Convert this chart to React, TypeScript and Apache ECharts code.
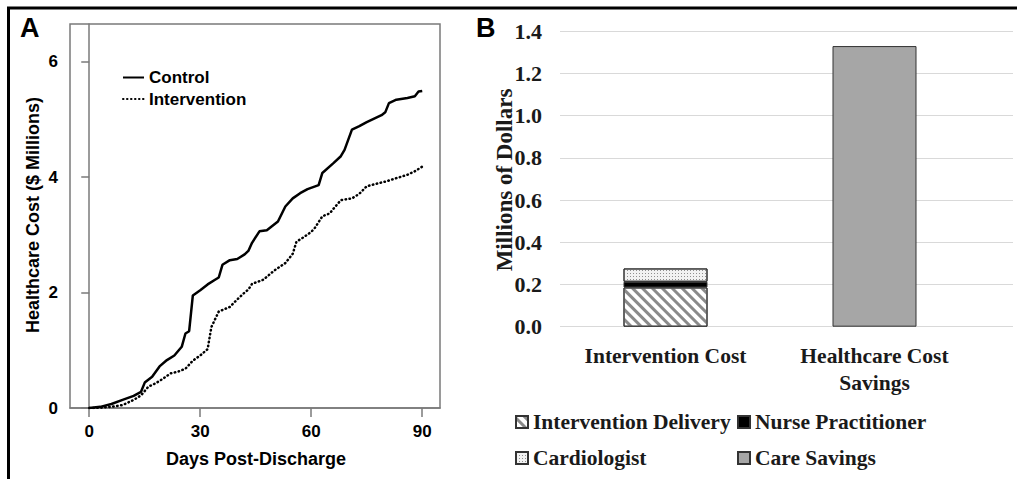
import React, { useEffect, useRef } from "react";
import * as echarts from "echarts";

// Panel A: cumulative healthcare cost ($ millions) by days post-discharge
const controlDays = [0, 3, 6, 9, 12, 14, 15, 17, 19, 21, 23, 25, 26, 27, 28, 30, 32, 34, 35, 36, 38, 40, 42, 43, 44, 46, 48, 51, 53, 55, 57, 59, 62, 63, 66, 68, 69, 71, 73, 75, 77, 79, 80, 81, 83, 86, 88, 89, 90];
const controlCost = [0, 0.02, 0.07, 0.14, 0.21, 0.28, 0.44, 0.54, 0.72, 0.83, 0.91, 1.06, 1.29, 1.33, 1.95, 2.04, 2.14, 2.22, 2.26, 2.48, 2.56, 2.58, 2.66, 2.72, 2.86, 3.06, 3.08, 3.23, 3.49, 3.63, 3.72, 3.79, 3.86, 4.07, 4.24, 4.36, 4.47, 4.82, 4.88, 4.95, 5.01, 5.07, 5.12, 5.28, 5.34, 5.37, 5.4, 5.48, 5.49];
const interventionDays = [0, 3, 6, 9, 12, 14, 16, 18, 20, 22, 24, 26, 28, 30, 32, 33, 35, 38, 40, 42, 43, 44, 47, 50, 53, 55, 56, 58, 60, 61, 63, 65, 66, 68, 71, 73, 75, 78, 80, 83, 86, 88, 90];
const interventionCost = [0, 0.005, 0.02, 0.05, 0.14, 0.22, 0.37, 0.43, 0.51, 0.6, 0.63, 0.68, 0.82, 0.91, 1.02, 1.4, 1.67, 1.75, 1.88, 2.0, 2.05, 2.15, 2.22, 2.38, 2.51, 2.67, 2.88, 2.96, 3.05, 3.12, 3.32, 3.37, 3.45, 3.6, 3.63, 3.71, 3.84, 3.89, 3.92, 3.98, 4.04, 4.1, 4.18];
const dayTicks = [0, 30, 60, 90];

// Panel B: millions of dollars
const barCategories = ["Intervention Cost", "Healthcare Cost\nSavings"];
const deliveryCost = [0.186, null];
const nurseCost = [0.027, null];
const cardiologistCost = [0.063, null];
const careSavings = [null, 1.33];

const SANS = "Liberation Sans";
const SERIF = "Liberation Serif";

export default function App() {
  const ref = useRef<HTMLDivElement>(null);
  useEffect(() => {
    if (!ref.current) return;
    const chart = echarts.init(ref.current, null, { renderer: "svg" });
    const axisGrey = "#7a7a7a";
    const sansText = { fontFamily: SANS, fontWeight: "bold" as const, fontSize: 17, color: "#000" };
    const serifText = { fontFamily: SERIF, fontWeight: "bold" as const, fontSize: 21, color: "#1a1a1a" };
    const barBorder = { borderColor: "#333", borderWidth: 1 };
    chart.setOption({
      animation: false,
      backgroundColor: "#fff",
      grid: [
        { left: 70, top: 24, width: 370, height: 384, show: true, borderColor: axisGrey, borderWidth: 1.5 },
        { left: 561, top: 31.3, width: 418, height: 295.4 },
        { left: 560, top: 31.3, width: 453, height: 295.4 },
      ],
      xAxis: [
        {
          gridIndex: 0, type: "value", min: -5.2, max: 94.8,
          axisLine: { show: true, onZero: false, lineStyle: { color: axisGrey, width: 1.5 } },
          axisTick: { show: true, customValues: dayTicks, length: 9, lineStyle: { color: axisGrey, width: 1.5 } },
          axisLabel: { customValues: dayTicks, margin: 15, ...sansText },
          splitLine: { show: false },
        },
        {
          gridIndex: 1, type: "category", data: barCategories,
          axisLine: { show: false }, axisTick: { show: false },
          axisLabel: { interval: 0, margin: 16, lineHeight: 27, ...serifText, fontSize: 21.5 },
        },
        { gridIndex: 2, type: "value", min: 0, max: 1, show: false },
      ],
      yAxis: [
        {
          gridIndex: 0, type: "value", min: 0, max: 6.65, interval: 2,
          axisLine: { show: true, lineStyle: { color: axisGrey, width: 1.5 } },
          axisTick: { show: true, length: 8, lineStyle: { color: axisGrey, width: 1.5 } },
          axisLabel: { margin: 12, ...sansText, showMaxLabel: false },
          splitLine: { show: false },
        },
        { gridIndex: 1, type: "value", min: 0, max: 1.4, show: false },
        {
          gridIndex: 2, type: "value", min: 0, max: 1.4, interval: 0.2,
          axisLine: { show: false }, axisTick: { show: false },
          axisLabel: { margin: 18, formatter: (v: number) => v.toFixed(1), ...serifText, fontSize: 22 },
          splitLine: { show: true, lineStyle: { color: "#d9d9d9", width: 1 } },
        },
      ],
      legend: [
        {
          data: ["Control", "Intervention"], orient: "vertical", left: 122, top: 69, padding: 0,
          itemWidth: 21, itemHeight: 12, itemGap: 4.5, selectedMode: false, textStyle: sansText,
          itemStyle: { opacity: 0 },
        },
        {
          data: ["Intervention Delivery", "Cardiologist"], orient: "vertical", left: 515, top: 411, padding: 0,
          itemWidth: 12, itemHeight: 12, itemGap: 14, icon: "rect", selectedMode: false, textStyle: { ...serifText, fontSize: 21.5 },
        },
        {
          data: ["Nurse Practitioner", "Care Savings"], orient: "vertical", left: 737, top: 411, padding: 0,
          itemWidth: 12, itemHeight: 12, itemGap: 14, icon: "rect", selectedMode: false, textStyle: { ...serifText, fontSize: 21.5 },
        },
      ],
      graphic: [
        { type: "line", shape: { x1: 7, y1: 8, x2: 1017, y2: 8 }, style: { stroke: "#000", lineWidth: 3 } },
        { type: "line", shape: { x1: 8.5, y1: 7, x2: 8.5, y2: 479 }, style: { stroke: "#000", lineWidth: 3 } },
        { type: "text", x: 20, y: 28, style: { text: "A", font: `bold 27px ${SANS}`, fill: "#000", textVerticalAlign: "middle" } },
        { type: "text", x: 476, y: 28, style: { text: "B", font: `bold 27px ${SANS}`, fill: "#000", textVerticalAlign: "middle" } },
        {
          type: "text", x: 33, y: 215, rotation: Math.PI / 2,
          style: { text: "Healthcare Cost ($ Millions)", font: `bold 18px ${SANS}`, fill: "#000", textAlign: "center", textVerticalAlign: "middle" },
        },
        {
          type: "text", x: 256, y: 459,
          style: { text: "Days Post-Discharge", font: `bold 18px ${SANS}`, fill: "#000", textAlign: "center", textVerticalAlign: "middle" },
        },
        {
          type: "text", x: 504, y: 180, rotation: Math.PI / 2,
          style: { text: "Millions of Dollars", font: `bold 23px ${SERIF}`, fill: "#1a1a1a", textAlign: "center", textVerticalAlign: "middle" },
        },
      ],
      series: [
        {
          type: "line", name: "Control", xAxisIndex: 0, yAxisIndex: 0, symbol: "none",
          data: controlDays.map((d, i) => [d, controlCost[i]]),
          lineStyle: { color: "#000", width: 2.5 }, itemStyle: { color: "#000" },
        },
        {
          type: "line", name: "Intervention", xAxisIndex: 0, yAxisIndex: 0, symbol: "none",
          data: interventionDays.map((d, i) => [d, interventionCost[i]]),
          lineStyle: { color: "#000", width: 2.5, type: [0.5, 3.5], cap: "round" }, itemStyle: { color: "#000" },
        },
        {
          type: "bar", name: "Intervention Delivery", xAxisIndex: 1, yAxisIndex: 1, stack: "b", barWidth: 84,
          data: deliveryCost,
          itemStyle: {
            color: "#fff", ...barBorder,
            decal: { symbol: "rect", symbolSize: 1, dashArrayX: [1, 0], dashArrayY: [3, 4], rotation: Math.PI / 4, color: "#8a8a8a" },
          },
        },
        {
          type: "bar", name: "Nurse Practitioner", xAxisIndex: 1, yAxisIndex: 1, stack: "b", barWidth: 84,
          data: nurseCost, itemStyle: { color: "#000", ...barBorder },
        },
        {
          type: "bar", name: "Cardiologist", xAxisIndex: 1, yAxisIndex: 1, stack: "b", barWidth: 84,
          data: cardiologistCost,
          itemStyle: {
            color: "#f2f2f2", ...barBorder,
            decal: { symbol: "rect", symbolSize: 1, dashArrayX: [1, 2], dashArrayY: [1, 2], rotation: 0, color: "#8f8f8f" },
          },
        },
        {
          type: "bar", name: "Care Savings", xAxisIndex: 1, yAxisIndex: 1, stack: "b", barWidth: 84,
          data: careSavings, itemStyle: { color: "#a6a6a6", ...barBorder },
        },
      ],
    });
    return () => chart.dispose();
  }, []);
  return <div ref={ref} style={{ position: "absolute", left: 0, top: 0, width: 1017, height: 479 }} />;
}
